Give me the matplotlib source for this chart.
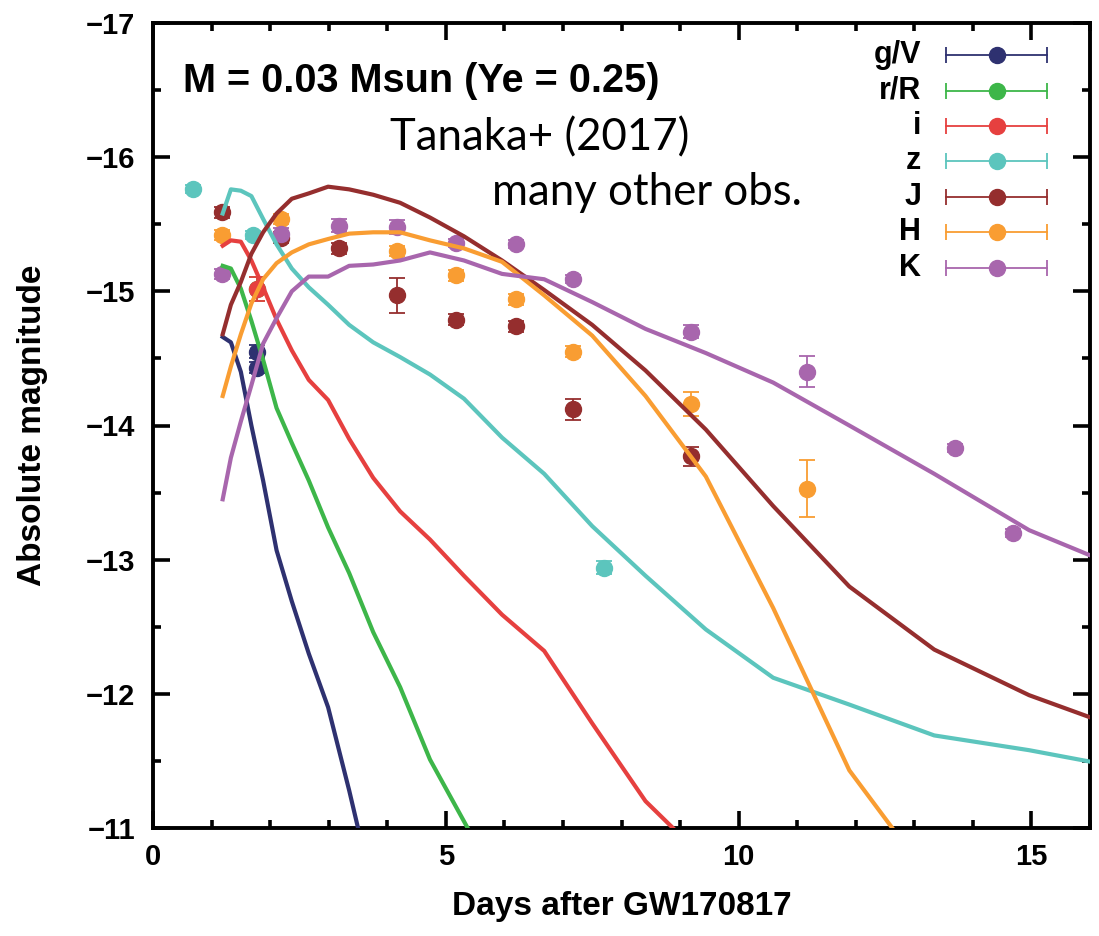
import matplotlib
matplotlib.use("Agg")
import matplotlib.pyplot as plt
from matplotlib.ticker import MultipleLocator

# ---------------- data ----------------
# model epochs (days)
t_model = [1.19, 1.33, 1.50, 1.68, 1.88, 2.11, 2.37, 2.66, 2.99, 3.35, 3.76, 4.22,
           4.73, 5.31, 5.96, 6.68, 7.50, 8.41, 9.44, 10.59, 11.89, 13.34, 14.96, 16.79]

model_gV = [-14.66, -14.62, -14.40, -14.00, -13.59, -13.07, -12.69, -12.30, -11.90,
            -11.28, -10.52]
model_rR = [-15.19, -15.17, -15.02, -14.78, -14.49, -14.13, -13.87, -13.59, -13.24,
            -12.90, -12.46, -12.05, -11.51, -11.05, -10.53]
model_i = [-15.34, -15.38, -15.37, -15.23, -15.03, -14.79, -14.56, -14.34, -14.19,
           -13.90, -13.61, -13.36, -13.15, -12.88, -12.59, -12.32, -11.78, -11.20, -10.76]
model_z = [-15.58, -15.76, -15.75, -15.71, -15.54, -15.35, -15.17, -15.03, -14.90,
           -14.75, -14.62, -14.51, -14.38, -14.20, -13.91, -13.64, -13.25, -12.88,
           -12.48, -12.12, -11.92, -11.69, -11.58, -11.43]
model_J = [-14.68, -14.90, -15.07, -15.28, -15.44, -15.58, -15.69, -15.73, -15.78,
           -15.76, -15.72, -15.66, -15.55, -15.41, -15.23, -15.01, -14.75, -14.41,
           -13.97, -13.40, -12.80, -12.33, -11.99, -11.70]
model_H = [-14.22, -14.44, -14.68, -14.91, -15.09, -15.21, -15.29, -15.35, -15.39,
           -15.43, -15.44, -15.44, -15.38, -15.32, -15.22, -14.97, -14.67, -14.22,
           -13.62, -12.64, -11.43, -10.58]
model_K = [-13.45, -13.76, -14.03, -14.30, -14.61, -14.80, -15.00, -15.11, -15.11,
           -15.19, -15.20, -15.23, -15.29, -15.23, -15.13, -15.09, -14.92, -14.72,
           -14.54, -14.32, -14.00, -13.64, -13.22, -12.89]

# observations
obs_gV_t = [1.78, 1.78]
obs_gV_m = [-14.55, -14.43]
obs_gV_e = [0.05, 0.04]
obs_rR_t = [1.78]
obs_rR_m = [-15.02]
obs_rR_e = [0.09]
obs_i_t = [1.78]
obs_i_m = [-15.02]
obs_i_e = [0.09]
obs_z_t = [0.69, 1.70, 7.70]
obs_z_m = [-15.76, -15.42, -12.94]
obs_z_e = [0.03, 0.03, 0.05]
obs_J_t = [1.17, 2.18, 3.17, 4.17, 5.17, 6.19, 7.17, 9.18]
obs_J_m = [-15.59, -15.40, -15.32, -14.97, -14.79, -14.74, -14.12, -13.77]
obs_J_e = [0.04, 0.04, 0.04, 0.13, 0.04, 0.04, 0.08, 0.07]
obs_H_t = [1.17, 2.18, 4.17, 5.17, 6.19, 7.17, 9.18, 11.16]
obs_H_m = [-15.42, -15.54, -15.30, -15.12, -14.94, -14.55, -14.16, -13.53]
obs_H_e = [0.04, 0.04, 0.04, 0.04, 0.04, 0.04, 0.09, 0.21]
obs_K_t = [1.17, 2.18, 3.17, 4.17, 5.17, 6.19, 7.17, 9.18, 11.16, 13.69, 14.68]
obs_K_m = [-15.13, -15.43, -15.49, -15.48, -15.36, -15.35, -15.09, -14.70, -14.40,
           -13.83, -13.20]
obs_K_e = [0.04, 0.04, 0.05, 0.05, 0.03, 0.03, 0.03, 0.05, 0.115, 0.03, 0.03]

band_labels = ["g/V", "r/R", "i", "z", "J", "H", "K"]
band_colors = ["#2e3170", "#3db649", "#e6403f", "#5cc5bd", "#952e2e", "#f99d32", "#a866ad"]

models = [model_gV, model_rR, model_i, model_z, model_J, model_H, model_K]
obs = [(obs_gV_t, obs_gV_m, obs_gV_e), (obs_rR_t, obs_rR_m, obs_rR_e),
       (obs_i_t, obs_i_m, obs_i_e), (obs_z_t, obs_z_m, obs_z_e),
       (obs_J_t, obs_J_m, obs_J_e), (obs_H_t, obs_H_m, obs_H_e),
       (obs_K_t, obs_K_m, obs_K_e)]

# ---------------- figure ----------------
plt.rcParams['font.family'] = ['Liberation Sans', 'DejaVu Sans']

fig = plt.figure(figsize=(10.99, 9.36), dpi=100)
ax = fig.add_axes([153 / 1099, 1 - 828 / 936, (1090 - 153) / 1099, (828 - 23) / 936])

MS = 11.5
for (t, m, e), c in zip(obs, band_colors):
    ax.errorbar(t, m, yerr=e, fmt='o', color=c, ms=MS, mec=c, elinewidth=1.3,
                capsize=6, capthick=1.3, zorder=2, clip_on=True)

for mod, c in zip(models, band_colors):
    ax.plot(t_model[:len(mod)], mod, color=c, lw=3.0, zorder=3, solid_joinstyle='round')

ax.set_xlim(0, 16)
ax.set_ylim(-11, -17)

ax.xaxis.set_major_locator(MultipleLocator(5))
ax.xaxis.set_minor_locator(MultipleLocator(1))
ax.yaxis.set_major_locator(MultipleLocator(1))
ax.yaxis.set_minor_locator(MultipleLocator(0.5))

ax.tick_params(which='both', direction='in', top=True, right=True, width=2.6)
ax.tick_params(which='major', length=12)
ax.tick_params(which='minor', length=6)
ax.tick_params(axis='x', which='major', labelsize=21, pad=11)
ax.tick_params(axis='y', which='major', labelsize=21, pad=13)
for lab in ax.get_xticklabels() + ax.get_yticklabels():
    lab.set_fontweight('bold')
for sp in ax.spines.values():
    sp.set_linewidth(2.8)

ax.set_xlabel("Days after GW170817", fontsize=24, fontweight='bold')
ax.set_ylabel("Absolute magnitude", fontsize=24, fontweight='bold')
ax.xaxis.set_label_coords(0.5, -0.078)
ax.yaxis.set_label_coords(-0.112, 0.5)

# annotation texts
ax.text(0.032, 0.914, "M = 0.03 Msun (Ye = 0.25)", transform=ax.transAxes,
        fontsize=28.5, fontweight='bold', ha='left', va='baseline')
ax.text(0.253, 0.8416, "Tanaka+ (2017)", transform=ax.transAxes,
        fontsize=31.5, family=['Lato', 'DejaVu Sans'], ha='left', va='baseline')
ax.text(0.362, 0.7743, "many other obs.", transform=ax.transAxes,
        fontsize=31.5, family=['Lato', 'DejaVu Sans'], ha='left', va='baseline')

# custom legend (horizontal error bars)
leg_y0 = 0.960
leg_dy = 0.044
for k, (lab, c) in enumerate(zip(band_labels, band_colors)):
    y = leg_y0 - k * leg_dy
    ax.plot([0.846, 0.954], [y, y], transform=ax.transAxes, color=c, lw=1.3,
            clip_on=False, zorder=5)
    ax.plot([0.846, 0.954], [y, y], transform=ax.transAxes, color=c, lw=0,
            marker='|', ms=11, mew=1.3, clip_on=False, zorder=5)
    ax.plot([0.901], [y], transform=ax.transAxes, color=c, marker='o', ms=MS,
            lw=0, clip_on=False, zorder=6)
    ax.text(0.820, y, lab, transform=ax.transAxes, fontsize=22, fontweight='bold',
            ha='right', va='center')

fig.savefig("out.png", dpi=100, facecolor='white')
